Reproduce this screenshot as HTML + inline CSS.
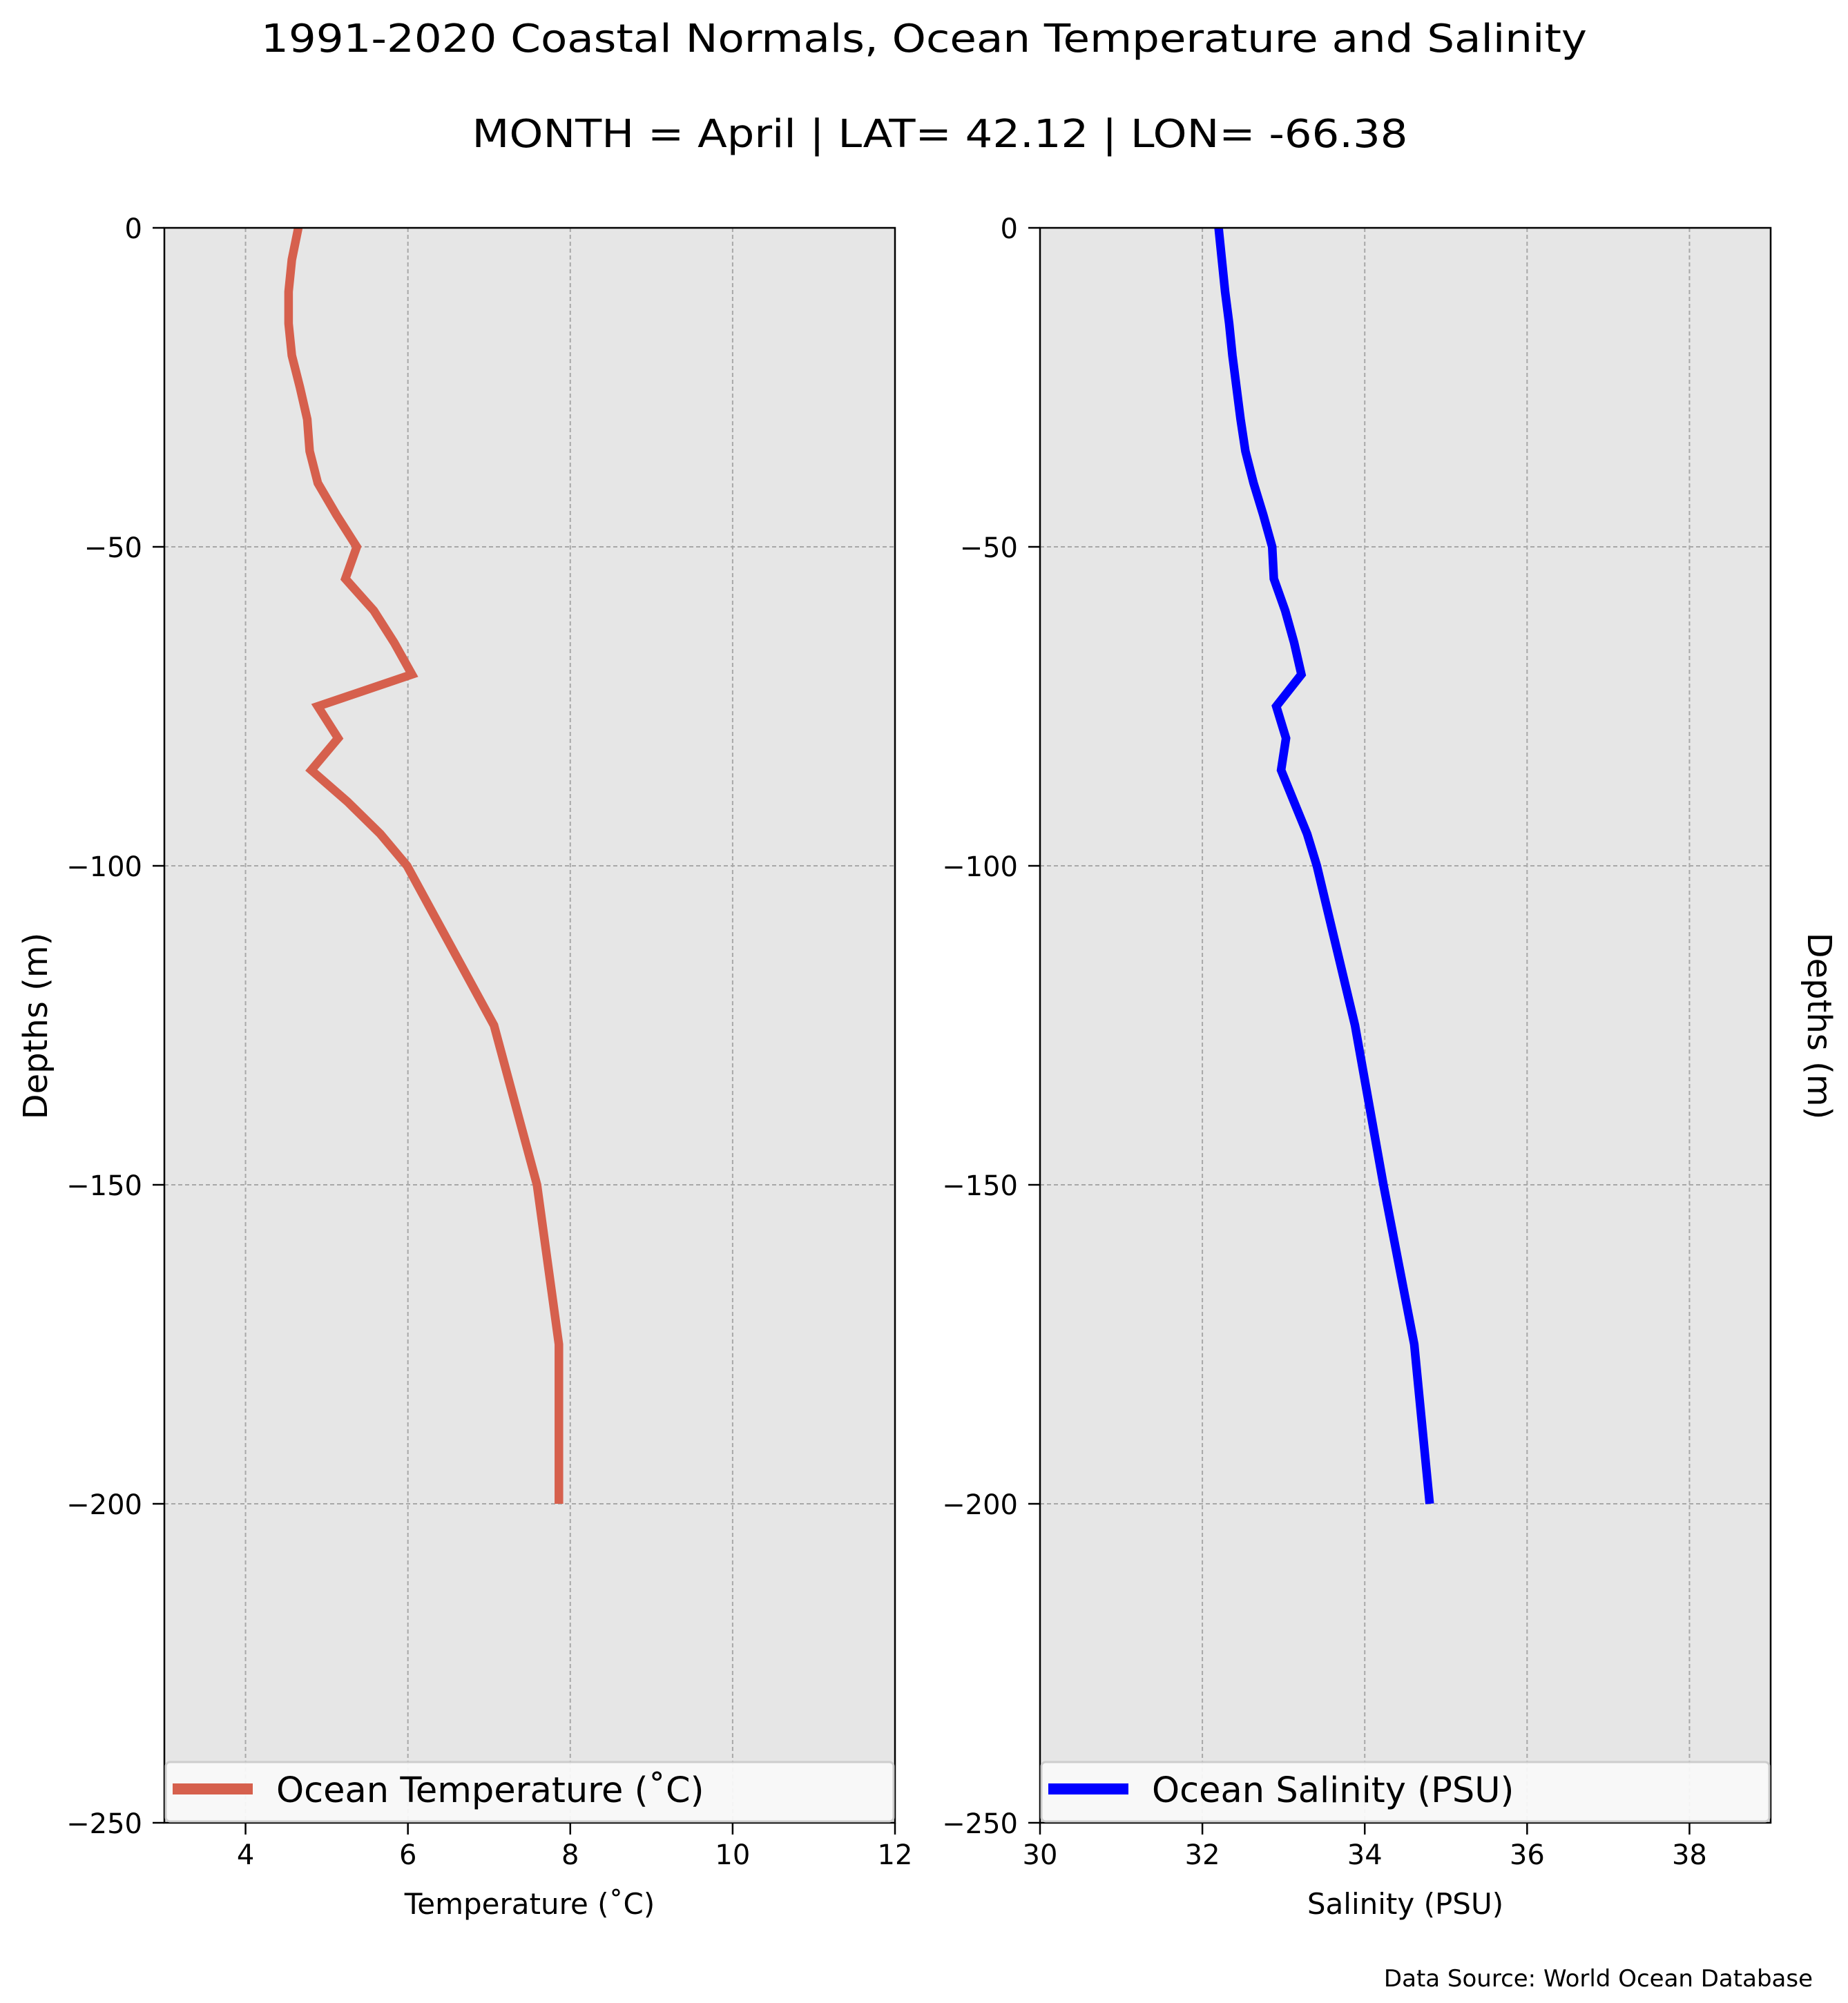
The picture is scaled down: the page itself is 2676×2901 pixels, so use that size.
<!DOCTYPE html>
<html><head><meta charset="utf-8"><style>
html,body{margin:0;padding:0;background:#fff;}
svg{display:block;font-family:"DejaVu Sans","Liberation Sans",sans-serif;}
</style></head><body>
<svg id="chart" width="2676" height="2901" viewBox="0 0 2676 2901" xmlns="http://www.w3.org/2000/svg">
<text x="1338" y="75" font-size="56" text-anchor="middle" textLength="1920" lengthAdjust="spacingAndGlyphs">1991-2020 Coastal Normals, Ocean Temperature and Salinity</text>
<text x="1361" y="213" font-size="56" text-anchor="middle" textLength="1355" lengthAdjust="spacingAndGlyphs">MONTH = April | LAT= 42.12 | LON= -66.38</text>
<g id="p1"></g>
<g id="p2"></g>
<text x="2625" y="2877" font-size="34" text-anchor="end">Data Source: World Ocean Database</text>
</svg>
<script>
const depths = [0,5,10,15,20,25,30,35,40,45,50,55,60,65,70,75,80,85,90,95,100,125,150,175,200];
const temperature = [4.65,4.57,4.53,4.53,4.57,4.67,4.76,4.79,4.89,5.12,5.37,5.23,5.58,5.83,6.05,4.89,5.14,4.81,5.26,5.66,5.99,7.06,7.59,7.86,7.86];
const salinity = [32.2,32.24,32.28,32.33,32.37,32.42,32.47,32.53,32.63,32.75,32.86,32.88,33.02,33.13,33.22,32.91,33.03,32.97,33.13,33.29,33.41,33.88,34.23,34.61,34.8];
const yTicks = [0,-50,-100,-150,-200,-250];
const tempTicks = [4,6,8,10,12];
const salTicks = [30,32,34,36,38];

const NS = 'http://www.w3.org/2000/svg';
const TOP = 330, BOT = 2640;
function yScale(v){ return TOP + (0 - v) / 250 * (BOT - TOP); }
function mk(tag, attrs, parent){ const e = document.createElementNS(NS, tag); for (const k in attrs) e.setAttribute(k, attrs[k]); parent.appendChild(e); return e; }

function panel(g, left, right, xmin, xmax, ticks, values, color, xlabel, legendText, labelSide){
  const xs = v => left + (v - xmin) / (xmax - xmin) * (right - left);
  const bg = mk('rect', {x:left, y:TOP, width:right-left, height:BOT-TOP, fill:'#e6e6e6'}, g);
  
  
  yTicks.forEach(t => {
    const y = yScale(t);
    const gl = mk('line', {x1:left, x2:right, y1:y, y2:y, stroke:'#a8a8a8', 'stroke-width':2, 'stroke-dasharray':'6,4'}, g);
    
    
    const tk = mk('line', {x1:left-17, x2:left, y1:y, y2:y, stroke:'#000', 'stroke-width':2.5}, g);
    
    
    const tl = mk('text', {x:left-32, y:y+15, 'font-size':40, 'text-anchor':'end'}, g);
    tl.textContent = t === 0 ? '0' : '\u2212' + Math.abs(t);
    
    
  });
  ticks.forEach(t => {
    const x = xs(t);
    const gl = mk('line', {x1:x, x2:x, y1:TOP, y2:BOT, stroke:'#a8a8a8', 'stroke-width':2, 'stroke-dasharray':'6,4'}, g);
    
    
    const tk = mk('line', {x1:x, x2:x, y1:BOT, y2:BOT+17, stroke:'#000', 'stroke-width':2.5}, g);
    
    
    const tl = mk('text', {x:x, y:BOT+60, 'font-size':40, 'text-anchor':'middle'}, g);
    tl.textContent = String(t);
    
    
  });
  const pts = values.map((v,i) => xs(v).toFixed(1) + ',' + yScale(-depths[i]).toFixed(1)).join(' ');
  const line = mk('polyline', {points:pts, fill:'none', stroke:color, 'stroke-width':12.5, 'stroke-linejoin':'miter'}, g);
  
  
  const fr = mk('rect', {x:left, y:TOP, width:right-left, height:BOT-TOP, fill:'none', stroke:'#000', 'stroke-width':2.5}, g);
  
  
  const lg = mk('g', {}, g);
  
  
  mk('rect', {x:left+2, y:2552, width:right-left-4, height:86, rx:6, fill:'#f9f9f9', stroke:'#cccccc', 'stroke-width':3, opacity:0.95}, lg);
  const ls = mk('line', {x1:left+12, x2:left+128, y1:2591, y2:2591, stroke:color, 'stroke-width':16}, lg);
  
  
  const lt = mk('text', {x:left+162, y:2610, 'font-size':51}, lg);
  lt.textContent = legendText;
  
  
  const xl = mk('text', {x:(left+right)/2, y:2772, 'font-size':42, 'text-anchor':'middle'}, g);
  xl.textContent = xlabel;
  
  
  const cy = 1486;
  const yl = labelSide === 'left'
    ? mk('text', {x:0, y:0, 'font-size':48, 'text-anchor':'middle', transform:'translate(68,'+cy+') rotate(-90)'}, g)
    : mk('text', {x:0, y:0, 'font-size':48, 'text-anchor':'middle', transform:'translate(2618,'+cy+') rotate(90)'}, g);
  yl.textContent = 'Depths (m)';
  
  
}
panel(document.getElementById('p1'), 238, 1296, 3, 12, tempTicks, temperature, '#d6604d', 'Temperature (\u02daC)', 'Ocean Temperature (\u02daC)', 'left');
panel(document.getElementById('p2'), 1506, 2564, 30, 39, salTicks, salinity, '#0000ff', 'Salinity (PSU)', 'Ocean Salinity (PSU)', 'right');
</script>
</body></html>
